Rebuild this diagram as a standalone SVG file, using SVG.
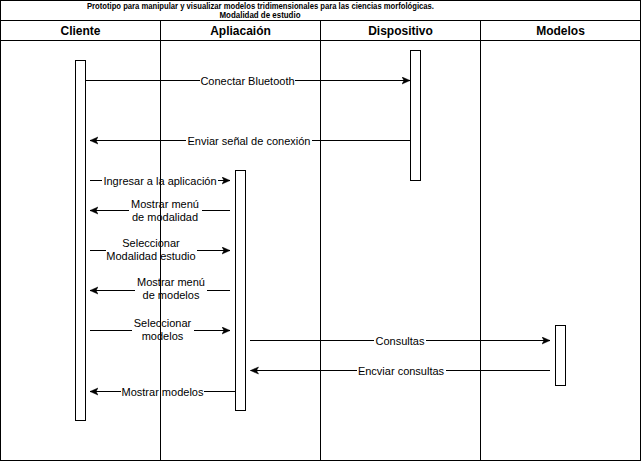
<svg xmlns="http://www.w3.org/2000/svg" width="642" height="462" viewBox="0 0 642 462">
<defs>
<marker id="arr" markerWidth="10" markerHeight="10" refX="8" refY="4" orient="auto" markerUnits="userSpaceOnUse">
<path d="M0,0.5 L8,4 L0,7.5 L2,4 Z" fill="#000" stroke="#000" stroke-width="0.5"/>
</marker>
</defs>
<style>
.frame{fill:none;stroke:#000;stroke-width:1}
.act{fill:#fff;stroke:#000;stroke-width:1}
.msg{fill:none;stroke:#000;stroke-width:1;marker-end:url(#arr)}
.lbg{fill:#fff}
.lbl{font-family:"Liberation Sans",Arial,Helvetica,sans-serif;font-size:11px;fill:#000;text-anchor:middle}
.hdr{font-family:"Liberation Sans",Arial,Helvetica,sans-serif;font-size:12px;font-weight:bold;fill:#000;text-anchor:middle}
.ttl{font-family:"Liberation Sans",Arial,Helvetica,sans-serif;font-size:8.5px;font-weight:bold;fill:#000;text-anchor:middle}
</style>
<rect width="642" height="462" fill="#fff"/>
<g id="connectors">
<line class="msg" x1="85.5" y1="80.5" x2="410" y2="80.5"/>
<rect class="lbg" x="200" y="73" width="95" height="15"/>
<text class="lbl" x="247.5" y="84.5">Conectar Bluetooth</text>

<line class="msg" x1="410" y1="140.5" x2="90" y2="140.5"/>
<rect class="lbg" x="186" y="133" width="126" height="15"/>
<text class="lbl" x="249" y="144.5">Enviar señal de conexión</text>

<line class="msg" x1="90" y1="180.5" x2="230" y2="180.5"/>
<rect class="lbg" x="102" y="173" width="116" height="15"/>
<text class="lbl" x="160" y="184.5">Ingresar a la aplicación</text>

<line class="msg" x1="230" y1="210.5" x2="90" y2="210.5"/>
<rect class="lbg" x="129" y="198" width="73" height="26"/>
<text class="lbl" x="165" y="208">Mostrar menú</text>
<text class="lbl" x="165" y="221">de modalidad</text>

<line class="msg" x1="90" y1="250.5" x2="230" y2="250.5"/>
<rect class="lbg" x="106" y="237" width="91" height="26"/>
<text class="lbl" x="151" y="247">Seleccionar</text>
<text class="lbl" x="151" y="260">Modalidad estudio</text>

<line class="msg" x1="230" y1="290.5" x2="90" y2="290.5"/>
<rect class="lbg" x="135" y="276" width="72" height="26"/>
<text class="lbl" x="171" y="285.5">Mostrar menú</text>
<text class="lbl" x="171" y="298.5">de modelos</text>

<line class="msg" x1="90" y1="330.5" x2="230" y2="330.5"/>
<rect class="lbg" x="132" y="317" width="62" height="26"/>
<text class="lbl" x="162.5" y="327">Seleccionar</text>
<text class="lbl" x="162.5" y="340">modelos</text>

<line class="msg" x1="250" y1="340.5" x2="550" y2="340.5"/>
<rect class="lbg" x="374" y="333" width="52" height="15"/>
<text class="lbl" x="400" y="344.5">Consultas</text>

<line class="msg" x1="550" y1="370.5" x2="250.5" y2="370.5"/>
<rect class="lbg" x="357" y="363" width="89" height="15"/>
<text class="lbl" x="401" y="374.5">Encviar consultas</text>

<line class="msg" x1="235" y1="391.5" x2="90" y2="391.5"/>
<rect class="lbg" x="121" y="384" width="83" height="15"/>
<text class="lbl" x="162.5" y="395.5">Mostrar modelos</text>
</g>
<g id="pool">
<rect class="frame" x="0.5" y="0.5" width="640" height="460"/>
<line class="frame" x1="0.5" y1="20.5" x2="640.5" y2="20.5"/>
<line class="frame" x1="0.5" y1="40.5" x2="640.5" y2="40.5"/>
<text class="ttl" x="260.5" y="8.5" textLength="347" lengthAdjust="spacingAndGlyphs">Prototipo para manipular y visualizar modelos tridimensionales para las ciencias morfológicas.</text>
<text class="ttl" x="260" y="17.8" textLength="81" lengthAdjust="spacingAndGlyphs">Modalidad de estudio</text>
</g>
<g id="lane-cliente">
<text class="hdr" x="80.5" y="35">Cliente</text>
<line class="frame" x1="160.5" y1="20.5" x2="160.5" y2="460.5"/>
</g>
<g id="lane-aplicacion">
<text class="hdr" x="240.5" y="35">Apliacaión</text>
<line class="frame" x1="320.5" y1="20.5" x2="320.5" y2="460.5"/>
</g>
<g id="lane-dispositivo">
<text class="hdr" x="400.5" y="35">Dispositivo</text>
<line class="frame" x1="480.5" y1="20.5" x2="480.5" y2="460.5"/>
</g>
<g id="lane-modelos">
<text class="hdr" x="560.5" y="35">Modelos</text>
</g>
<g id="act-cliente"><rect class="act" x="75.5" y="60.5" width="10" height="360"/></g>
<g id="act-aplicacion"><rect class="act" x="235.5" y="170.5" width="10" height="240"/></g>
<g id="act-dispositivo"><rect class="act" x="410.5" y="50.5" width="10" height="130"/></g>
<g id="act-modelos"><rect class="act" x="555.5" y="325.5" width="10" height="60"/></g>
</svg>
